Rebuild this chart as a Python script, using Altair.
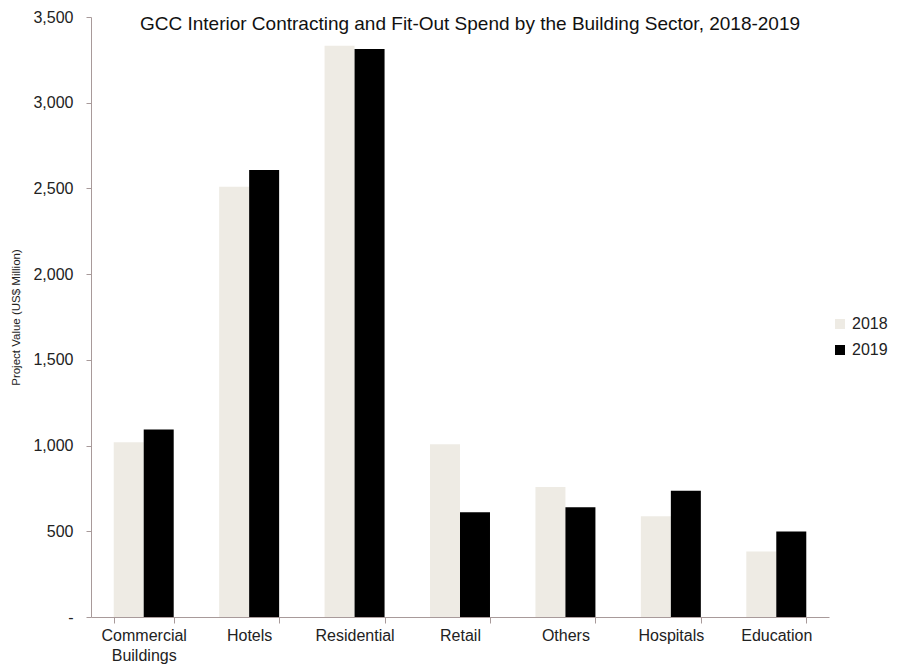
import altair as alt
import pandas as pd

sectors = ["Commercial Buildings", "Hotels", "Residential", "Retail", "Others", "Hospitals", "Education"]
v2018 = [1020, 2510, 3332, 1008, 759, 588, 382]
v2019 = [1094, 2608, 3313, 611, 640, 736, 499]
years = ["2018", "2019"]
colors = ["#EEEBE4", "#000000"]

rows = []
for s, a, b in zip(sectors, v2018, v2019):
    rows.append({"sector": s, "year": "2018", "value": a})
    rows.append({"sector": s, "year": "2019", "value": b})
df = pd.DataFrame(rows)

axis_color = "#A89A9A"
font = "Liberation Sans"

chart = alt.Chart(df).mark_bar(stroke=None).encode(
    x=alt.X("sector:N", sort=sectors, title=None,
            scale=alt.Scale(paddingInner=0.431, paddingOuter=0.2155),
            axis=alt.Axis(labelAngle=0, tickBand="extent", domainColor=axis_color, tickColor=axis_color,
                          tickSize=6, labelFontSize=16, labelColor="#222222", labelFont=font, labelPadding=4,
                          labelExpr="datum.label == 'Commercial Buildings' ? ['Commercial', 'Buildings'] : datum.label",
                          labelLineHeight=20)),
    xOffset=alt.XOffset("year:N", sort=years),
    y=alt.Y("value:Q", title="Project Value (US$ Million)",
            scale=alt.Scale(domain=[0, 3500], nice=False),
            axis=alt.Axis(values=[0, 500, 1000, 1500, 2000, 2500, 3000, 3500], grid=False,
                          domainColor=axis_color, tickColor=axis_color, tickSize=5,
                          labelFontSize=16, labelColor="#222222", labelFont=font, labelPadding=13,
                          labelExpr="datum.value == 0 ? '-' : format(datum.value, ',')",
                          titleFontSize=11.5, titleFontWeight="normal", titleFont=font, titleColor="#222222",
                          titlePadding=11)),
    color=alt.Color("year:N", sort=years, scale=alt.Scale(domain=years, range=colors),
                    legend=alt.Legend(title=None, orient="none", legendX=741, legendY=299, padding=0,
                                      symbolType="square", symbolSize=100, symbolStrokeWidth=0,
                                      labelFontSize=16, labelFont=font, labelColor="#222222",
                                      rowPadding=10, labelOffset=4)),
).properties(
    width=738, height=600,
    title=alt.TitleParams("GCC Interior Contracting  and Fit-Out Spend by the Building Sector, 2018-2019",
                          fontSize=19, fontWeight="normal", font=font, color="#111111",
                          anchor="middle", dx=10, dy=29),
    autosize=alt.AutoSizeParams(type="none"),
    padding={"left": 83, "top": 9, "right": 64, "bottom": 47},
).configure_view(stroke=None)

chart.save("out.html", embed_options={"renderer": "svg", "actions": False})
